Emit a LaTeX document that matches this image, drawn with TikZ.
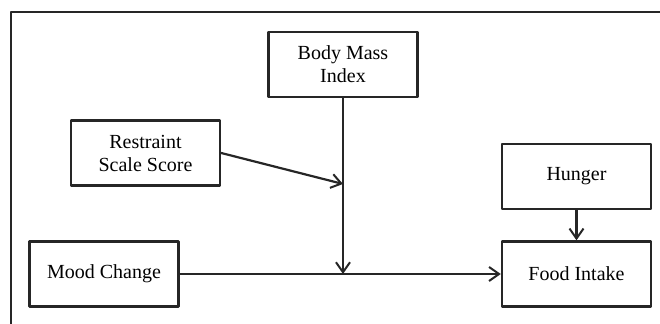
\documentclass[tikz,border=0pt]{standalone}
\usepackage{fontspec}
\setmainfont{Liberation Serif}
\usetikzlibrary{arrows.meta}
\begin{document}
\begin{tikzpicture}[x=.5pt,y=-.5pt,line cap=round,line join=round,
  factor/.style={draw=black!85,line width=1.2pt,minimum width=74.5pt,minimum height=32.5pt,
    inner sep=0pt,align=center,font=\fontsize{10}{11.5}\selectfont},
  effect/.style={-{Straight Barb[length=5pt,width=7pt,line width=1pt]},draw=black!85,line width=1.1pt}]
  \useasboundingbox (0,0) rectangle (660,324);
  \draw[black!85,line width=.9pt] (11,324) -- (11,12) -- (660,12);
  \node[factor] (bmi) at (343,64.5) {Body Mass\\Index};
  \node[factor] (restraint) at (145.5,153) {Restraint\\Scale Score};
  \node[factor] (hunger) at (576.5,176.5) {Hunger};
  \node[factor] (mood) at (104,274) {Mood Change};
  \node[factor] (food) at (576.5,274) {Food Intake};
  \coordinate (moderation) at (343,184);
  \coordinate (joint) at (343,274);
  \draw[effect] (mood) -- (food);
  \draw[effect] (bmi) -- (joint);
  \draw[effect] (restraint.east) -- (moderation);
  \draw[effect] (hunger) -- (food);
\end{tikzpicture}
\end{document}
